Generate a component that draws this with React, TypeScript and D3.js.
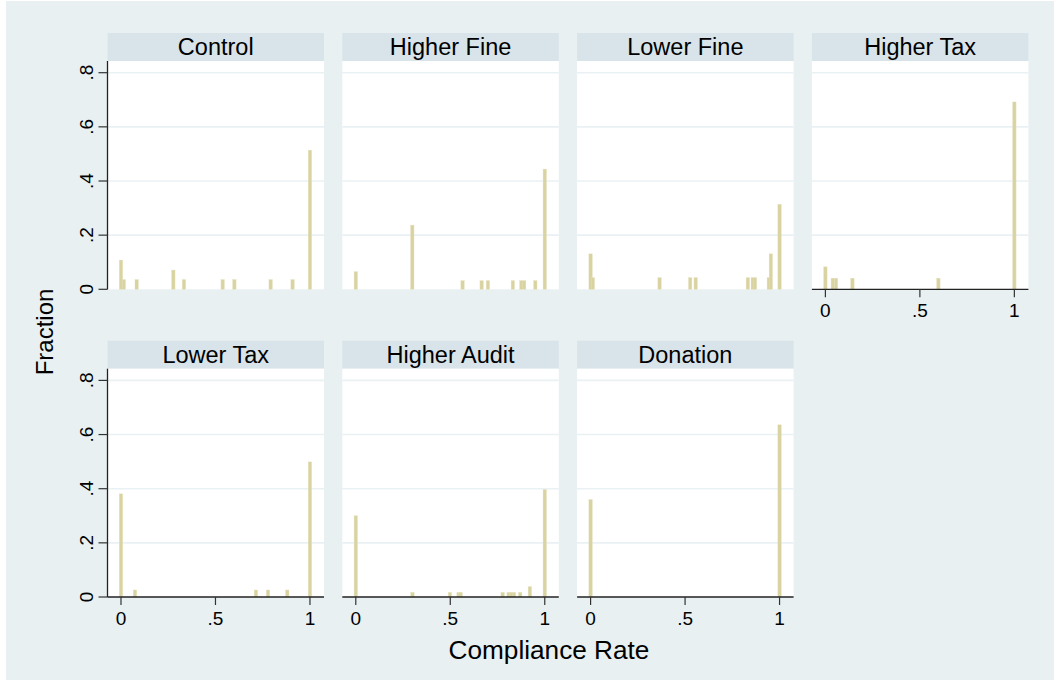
import React from 'react';
import * as d3 from 'd3';

// compliance-rate histograms per treatment (x = rate, y = fraction)
const panelNames = ['Control', 'Higher Fine', 'Lower Fine', 'Higher Tax', 'Lower Tax', 'Higher Audit', 'Donation'];

const controlX = [0, 0.015, 0.083, 0.277, 0.333, 0.538, 0.6, 0.792, 0.908, 1];
const controlY = [0.108, 0.036, 0.036, 0.071, 0.036, 0.036, 0.036, 0.036, 0.036, 0.514];

const higherFineX = [0, 0.299, 0.565, 0.666, 0.699, 0.831, 0.876, 0.891, 0.95, 1];
const higherFineY = [0.065, 0.237, 0.032, 0.032, 0.032, 0.032, 0.032, 0.032, 0.032, 0.444];

const lowerFineX = [0, 0.012, 0.365, 0.527, 0.556, 0.832, 0.858, 0.87, 0.943, 0.954, 1];
const lowerFineY = [0.131, 0.043, 0.043, 0.043, 0.043, 0.043, 0.043, 0.043, 0.043, 0.131, 0.314];

const higherTaxX = [0, 0.039, 0.056, 0.143, 0.598, 1];
const higherTaxY = [0.083, 0.041, 0.041, 0.041, 0.041, 0.692];

const lowerTaxX = [0, 0.074, 0.714, 0.778, 0.88, 1];
const lowerTaxY = [0.381, 0.026, 0.026, 0.026, 0.026, 0.499];

const higherAuditX = [0, 0.3, 0.498, 0.544, 0.555, 0.777, 0.809, 0.823, 0.837, 0.87, 0.921, 1];
const higherAuditY = [0.3, 0.017, 0.017, 0.017, 0.017, 0.017, 0.017, 0.017, 0.017, 0.017, 0.038, 0.397];

const donationX = [0, 1];
const donationY = [0.36, 0.636];

const seriesX = [controlX, higherFineX, lowerFineX, higherTaxX, lowerTaxX, higherAuditX, donationX];
const seriesY = [controlY, higherFineY, lowerFineY, higherTaxY, lowerTaxY, higherAuditY, donationY];

const yTicks = [0, 0.2, 0.4, 0.6, 0.8];
const xTicks = [0, 0.5, 1];

const W = 1054;
const H = 681;
const font = 'Liberation Sans, Arial, sans-serif';

const panelLeft = 107.5;
const colStep = 234.8;
const panelW = 216.5;
const rowTop = 33;
const rowStep = 307.7;
const stripH = 28;
const plotH = 228.3;

const fmt = (v: number) => (v === 0 ? '0' : v === 1 ? '1' : d3.format('.1f')(v).replace(/^0/, ''));

const Panel: React.FC<{ idx: number }> = ({ idx }) => {
  const col = idx % 4;
  const row = Math.floor(idx / 4);
  const x0 = panelLeft + col * colStep;
  const top = rowTop + row * rowStep;
  const plotTop = top + stripH;
  const plotBottom = plotTop + plotH;

  const x = d3.scaleLinear().domain([-0.0714, 1.0743]).range([x0, x0 + panelW]);
  const y = d3.scaleLinear().domain([0, 0.8]).range([plotBottom, plotBottom - 216.6]);

  const showX = row === 1 || col === 3;
  const showY = col === 0;
  const xs = seriesX[idx];
  const ys = seriesY[idx];
  const barW = 3.4;

  return (
    <g>
      <rect x={x0} y={top} width={panelW} height={stripH} fill="#d9e4ea" />
      <text x={x0 + panelW / 2} y={top + stripH / 2 + 8} textAnchor="middle" fontSize={23.5} fontFamily={font} fill="#000">
        {panelNames[idx]}
      </text>
      <rect x={x0} y={plotTop} width={panelW} height={plotH} fill="#fff" />
      {yTicks.slice(1).map(t => (
        <line key={t} x1={x0} x2={x0 + panelW} y1={y(t)} y2={y(t)} stroke="#eaf1f4" strokeWidth={1.6} />
      ))}
      {xs.map((v, i) => (
        <rect key={i} x={x(v) - barW / 2} y={y(ys[i])} width={barW} height={plotBottom - y(ys[i])}
          fill="#d8d3a0" stroke="#e6e2c0" strokeWidth={0.4} />
      ))}
      {showY && (
        <g>
          <line x1={x0} x2={x0} y1={plotTop} y2={plotBottom} stroke="#222" strokeWidth={1.3} />
          {yTicks.map(t => (
            <g key={t}>
              <line x1={x0 - 9} x2={x0} y1={y(t)} y2={y(t)} stroke="#333" strokeWidth={1.2} />
              <text transform={`translate(${x0 - 14.5},${y(t)}) rotate(-90)`} textAnchor="middle" fontSize={19}
                fontFamily={font} fill="#000">{fmt(t)}</text>
            </g>
          ))}
        </g>
      )}
      {showX && (
        <g>
          <line x1={x0} x2={x0 + panelW} y1={plotBottom} y2={plotBottom} stroke="#222" strokeWidth={1.3} />
          {xTicks.map(t => (
            <g key={t}>
              <line x1={x(t)} x2={x(t)} y1={plotBottom} y2={plotBottom + 8} stroke="#333" strokeWidth={1.2} />
              <text x={x(t)} y={plotBottom + 28} textAnchor="middle" fontSize={19} fontFamily={font} fill="#000">
                {fmt(t)}
              </text>
            </g>
          ))}
        </g>
      )}
    </g>
  );
};

export default function App() {
  return (
    <div style={{ position: 'absolute', left: 0, top: 0 }}>
      <svg width={W} height={H} style={{ display: 'block' }}>
        <rect x={0} y={0} width={W} height={H} fill="#fff" />
        <rect x={6} y={1} width={W - 6} height={H - 2} fill="#e8f0f2" />
        {panelNames.map((_, i) => <Panel key={i} idx={i} />)}
        <text transform="translate(53,332) rotate(-90)" textAnchor="middle" fontSize={24} fontFamily={font} fill="#000">
          Fraction
        </text>
        <text x={549} y={659} textAnchor="middle" fontSize={26.2} fontFamily={font} fill="#000">
          Compliance Rate
        </text>
      </svg>
    </div>
  );
}
